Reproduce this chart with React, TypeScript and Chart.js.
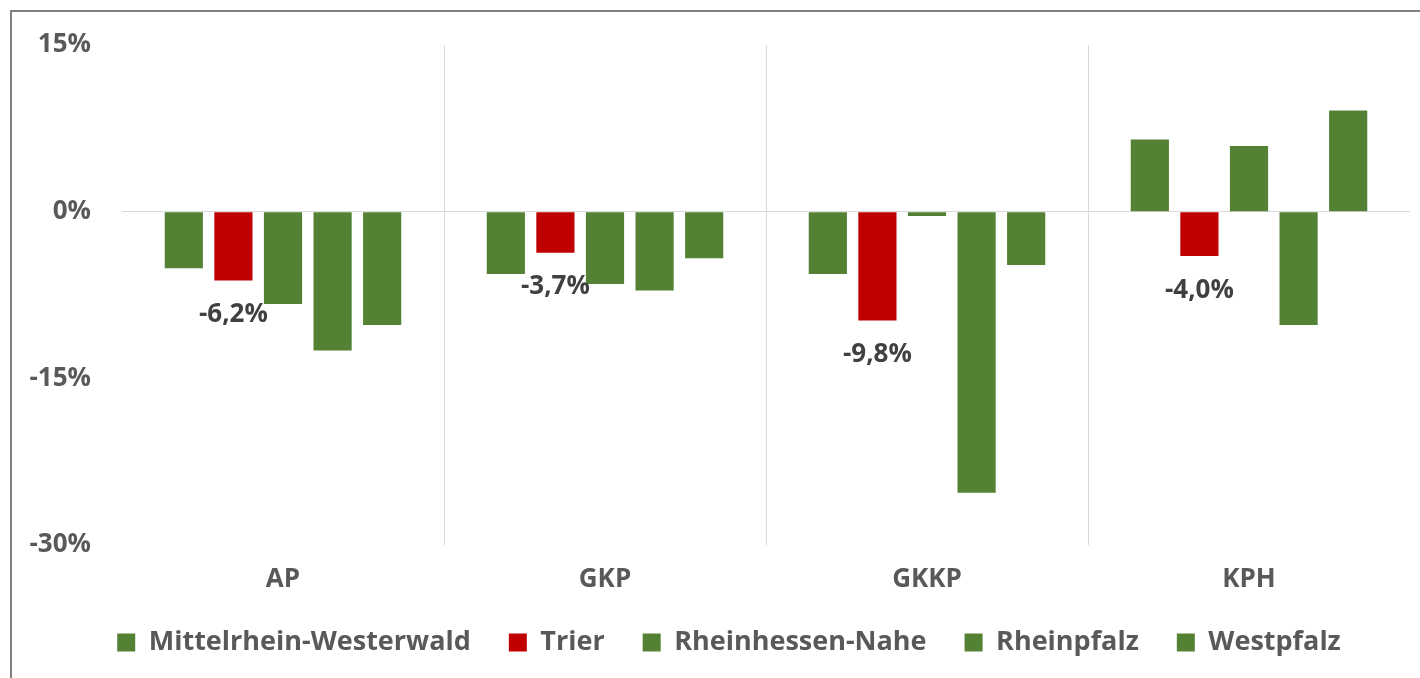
import React, { useEffect, useRef } from "react";
import { Chart, registerables } from "chart.js";

Chart.register(...registerables);

const categories = ["AP", "GKP", "GKKP", "KPH"];
const mittelrheinWesterwald = [-5.1, -5.6, -5.6, 6.5];
const trier = [-6.2, -3.7, -9.8, -4.0];
const rheinhessenNahe = [-8.3, -6.5, -0.4, 5.9];
const rheinpfalz = [-12.5, -7.1, -25.3, -10.2];
const westpfalz = [-10.2, -4.2, -4.8, 9.1];
const yTicks = [-30, -15, 0, 15];

const GREEN = "#548235";
const RED = "#C00000";
const TEXT = "#595959";
const FONT = "'Open Sans', sans-serif";
const FS = 26;

const fmt = (v: number) => v.toFixed(1).replace(".", ",") + "%";

const trierLabels = {
  id: "trierLabels",
  afterDatasetsDraw(chart: any) {
    const ctx = chart.ctx;
    const meta = chart.getDatasetMeta(1);
    ctx.save();
    ctx.font = `bold ${FS}px ${FONT}`;
    ctx.fillStyle = "#404040";
    ctx.textAlign = "center";
    ctx.textBaseline = "middle";
    meta.data.forEach((el: any, i: number) => {
      ctx.fillText(fmt(trier[i]), el.x, el.y + 34);
    });
    ctx.restore();
  },
};

// nudge the legend box to where the reference puts it
const legendShift = {
  id: "legendShift",
  afterLayout(chart: any) {
    const lg = chart.legend;
    if (!lg) return;
    const dx = 18;
    const dy = -4;
    lg.left += dx;
    lg.right += dx;
    lg.top += dy;
    lg.bottom += dy;
  },
};

export default function App() {
  const ref = useRef<HTMLCanvasElement | null>(null);
  useEffect(() => {
    if (!ref.current) return;
    const mk = (label: string, data: number[], color: string) => ({
      label,
      data,
      backgroundColor: color,
      borderWidth: 0,
      categoryPercentage: 0.77,
      barPercentage: 0.77,
    });
    const chart = new Chart(ref.current, {
      type: "bar",
      data: {
        labels: categories,
        datasets: [
          mk("Mittelrhein-Westerwald", mittelrheinWesterwald, GREEN),
          mk("Trier", trier, RED),
          mk("Rheinhessen-Nahe", rheinhessenNahe, GREEN),
          mk("Rheinpfalz", rheinpfalz, GREEN),
          mk("Westpfalz", westpfalz, GREEN),
        ],
      },
      plugins: [trierLabels, legendShift],
      options: {
        animation: false,
        responsive: false,
        maintainAspectRatio: false,
        layout: { padding: { left: 0, right: 10, top: 33, bottom: 8 } },
        plugins: {
          tooltip: { enabled: false },
          legend: {
            position: "bottom",
            labels: {
              boxWidth: 18,
              boxHeight: 18,
              padding: 38,
              color: TEXT,
              font: { family: FONT, size: 27, weight: "bold" },
            },
          },
        },
        scales: {
          x: {
            grid: {
              offset: true,
              drawTicks: false,
              color: (c: any) =>
                c.index === undefined || c.index === 0 ? "rgba(0,0,0,0)" : "#d9d9d9",
              lineWidth: 1,
            },
            border: { display: false },
            ticks: {
              padding: 19,
              color: TEXT,
              font: { family: FONT, size: FS, weight: "bold" },
            },
            afterFit: (s: any) => {
              s.height = 50;
            },
          },
          y: {
            min: -30,
            max: 15,
            afterBuildTicks: (s: any) => {
              s.ticks = yTicks.map((v) => ({ value: v }));
            },
            grid: {
              drawTicks: false,
              color: (c: any) => (c.tick && c.tick.value === 0 ? "#d9d9d9" : "rgba(0,0,0,0)"),
              lineWidth: 1,
            },
            border: { display: false },
            ticks: {
              padding: 31,
              color: TEXT,
              font: { family: FONT, size: FS, weight: "bold" },
              callback: (v: any) => v + "%",
            },
            afterFit: (s: any) => {
              s.width = 110;
              s.paddingTop = 0;
              s.paddingBottom = 0;
            },
          },
        },
      },
    });
    return () => chart.destroy();
  }, []);
  return (
    <div
      style={{
        position: "absolute",
        left: 10,
        top: 10,
        width: 1410,
        height: 668,
        borderTop: "2px solid #7f7f7f",
        borderLeft: "2px solid #7f7f7f",
        boxSizing: "border-box",
        background: "#fff",
        overflow: "hidden",
      }}
    >
      <canvas ref={ref} width={1408} height={666} style={{ display: "block" }} />
    </div>
  );
}
